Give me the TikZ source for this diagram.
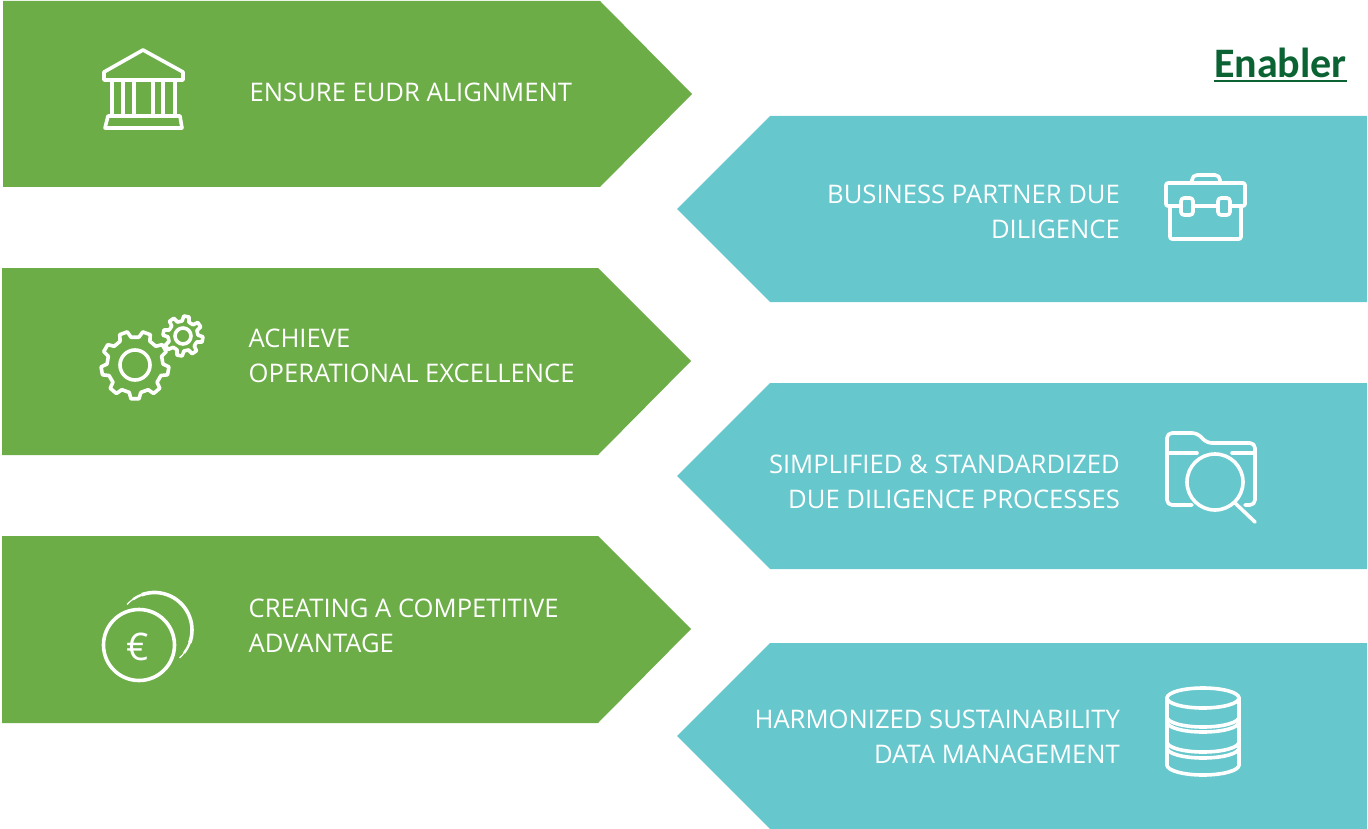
\documentclass[tikz,border=0pt]{standalone}
\usepackage{fontspec}
\usepackage{xcolor}
\setmainfont{Open Sans}
\newfontfamily\titlefont{Carlito}
\definecolor{arrowgreen}{HTML}{6CAD47}
\definecolor{arrowteal}{HTML}{66C7CD}
\definecolor{titlegreen}{HTML}{0B6233}
\tikzset{
  label text/.style={text=white,inner sep=0pt,font=\fontsize{25.6}{35}\selectfont},
  left text/.style={label text,anchor=west,align=left},
  right text/.style={label text,anchor=east,align=right},
  icon/.style={draw=white,line width=3.6pt,line join=round,line cap=round},
}
% gear: centre x, centre y, hole radius, root radius, tip radius, teeth
\newcommand{\gearicon}[6]{
\draw[icon] (#1,#2) circle (#3);
\pgfmathsetmacro{\gearstep}{360/#6}
\foreach \i in {1,...,#6}{
\pgfmathsetmacro{\gearang}{(\i-1)*\gearstep+10}
\draw[icon] ([shift={(#1,#2)}]\gearang-0.30*\gearstep:#4)--([shift={(#1,#2)}]\gearang-0.17*\gearstep:#5)--([shift={(#1,#2)}]\gearang+0.17*\gearstep:#5)--([shift={(#1,#2)}]\gearang+0.30*\gearstep:#4)--([shift={(#1,#2)}]\gearang+0.70*\gearstep:#4);
}
}
\begin{document}
\begin{tikzpicture}[x=1pt,y=-1pt]
\useasboundingbox (0,0) rectangle (1368,829);

% green arrows
\fill[arrowgreen] (3,1)--(600,1)--(692,94)--(600,187)--(3,187)--cycle;
\fill[arrowgreen] (2,268)--(598,268)--(691,361)--(598,455)--(2,455)--cycle;
\fill[arrowgreen] (2,536)--(598,536)--(691,629)--(598,723)--(2,723)--cycle;

% teal arrows
\fill[arrowteal] (1367,116)--(770,116)--(677,209)--(770,302)--(1367,302)--cycle;
\fill[arrowteal] (1367,383)--(770,383)--(677,476)--(770,569)--(1367,569)--cycle;
\fill[arrowteal] (1367,643)--(770,643)--(677,736)--(770,829)--(1367,829)--cycle;

% labels
\node[left text] (eudr) at (249.5,92) {ENSURE EUDR ALIGNMENT};
\node[left text] (excellence) at (248.5,355.5) {ACHIEVE\\OPERATIONAL EXCELLENCE};
\node[left text] (advantage) at (248.5,625.5) {CREATING A COMPETITIVE\\ADVANTAGE};
\node[right text] (partner) at (1120,212) {BUSINESS PARTNER DUE\\DILIGENCE};
\node[right text] (simplified) at (1120,482) {SIMPLIFIED \& STANDARDIZED\\DUE DILIGENCE PROCESSES};
\node[right text] (harmonized) at (1120,737) {HARMONIZED SUSTAINABILITY\\DATA MANAGEMENT};

\node[inner sep=0pt,text=titlegreen,font=\titlefont\fontsize{42}{44}\bfseries\selectfont] (enabler) at (1280.5,63) {Enabler};
\draw[titlegreen,line width=2.5pt] (1214,81)--(1347,81);

% bank
\draw[icon] (104,72)--(143,50)--(183,72)--(183,80)--(104,80)--cycle;
\foreach \x in {112,123,134,153,163,175}{
\draw[icon] (\x,80)--(\x,116);
}
\draw[icon] (108,116)--(180,116)--(182,128)--(105,128)--cycle;

% gears
\gearicon{135}{365}{15}{28}{34}{9}
\gearicon{183}{336}{8}{15}{20}{8}

% coins
\draw[icon] (139,645) circle (35.5);
\foreach \a/\b/\w in {223/235/1.2,235/250/2.4,250/380/3.6,380/398/2.4,398/408/1.2}{
\draw[icon,line cap=butt,line width=\w pt] (154.5,630) ++(\a:37.5) arc (\a:\b:37.5);
}
\node[inner sep=0pt,text=white,font=\fontsize{38}{38}\selectfont] (euro) at (138,647) {€};

% briefcase
\draw[icon,rounded corners=2pt] (1181,206)--(1166,206)--(1166,183)--(1245,183)--(1245,206)--(1230,206);
\draw[icon,rounded corners=2pt] (1170,206)--(1170,239)--(1241,239)--(1241,206);
\draw[icon,rounded corners=5pt] (1192,183)--(1192,175)--(1220,175)--(1220,183);
\draw[icon,rounded corners=3pt] (1181,198) rectangle (1193,215);
\draw[icon,rounded corners=3pt] (1218,198) rectangle (1230,215);
\draw[icon] (1193,206)--(1218,206);

% folder
\draw[icon,rounded corners=5pt] (1192,505)--(1167,505)--(1167,433)--(1197,433)--(1207,443)--(1255,443)--(1255,505)--(1245,505);
\draw[icon] (1167,453)--(1197,453);
\draw[icon] (1232,453)--(1255,453);
\draw[icon] (1215,482) circle (28);
\draw[icon] (1235,503)--(1255,522);

% database
\draw[icon] (1203,698) ellipse (36 and 10);
\draw[icon] (1167,698)--(1167,765);
\draw[icon] (1239,698)--(1239,765);
\foreach \y in {717,722,742,748,765}{
\draw[icon] (1167,\y) arc (180:0:36 and 10);
}

\end{tikzpicture}
\end{document}
